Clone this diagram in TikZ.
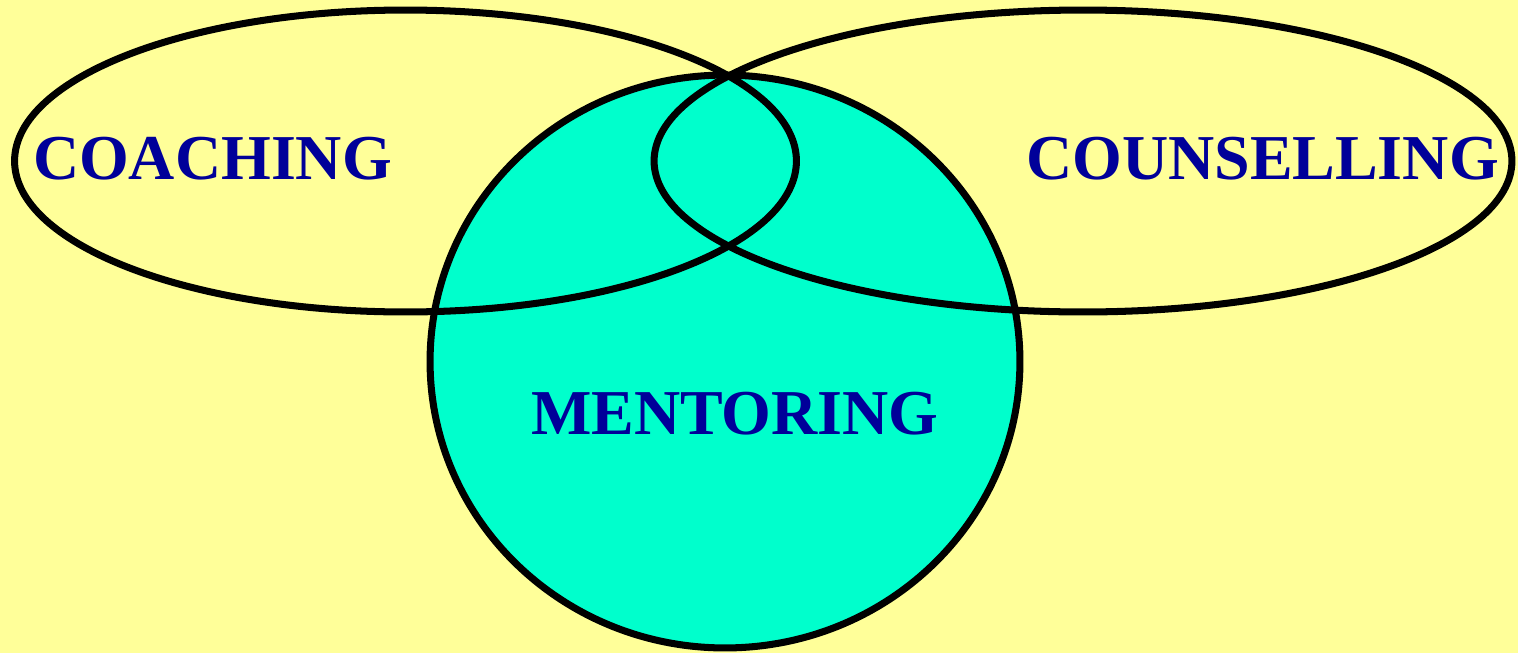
\documentclass[tikz,border=0pt]{standalone}
\usepackage{fontspec}
\setmainfont{Liberation Serif}
\usetikzlibrary{shapes.geometric}
\definecolor{paper}{RGB}{255,255,153}
\definecolor{mint}{RGB}{0,255,204}
\definecolor{ink}{RGB}{0,0,153}
\tikzset{
	every node/.style = {inner sep = 0, outer sep = 0},
	area/.style = {draw, ellipse, line width = 4pt},
	field/.style = {font=\fontsize{36.4}{40}\selectfont\bfseries, text=ink, anchor=base}
}

\begin{document}
\begin{tikzpicture}[x=0.02cm, y=-0.02cm]
		\fill[paper] (0,0) rectangle (1518,653);
		\useasboundingbox (0,0) rectangle (1518,653);

		% mentoring sits underneath, the two rings go over it
		\node(mentoring)[area, fill=mint, minimum width=11.8cm, minimum height=11.46cm] at (725,361.5) {};
		\node(coaching)[area, minimum width=15.64cm, minimum height=6.04cm] at (405.5,161) {};
		\node(counselling)[area, minimum width=17.16cm, minimum height=6.04cm] at (1083,161) {};

		\node(coachingtext)[field] at (212.5,179) {COACHING};
		\node(counsellingtext)[field] at (1262.5,179) {COUNSELLING};
		\node(mentoringtext)[field] at (735,434) {MENTORING};
\end{tikzpicture}
\end{document}
